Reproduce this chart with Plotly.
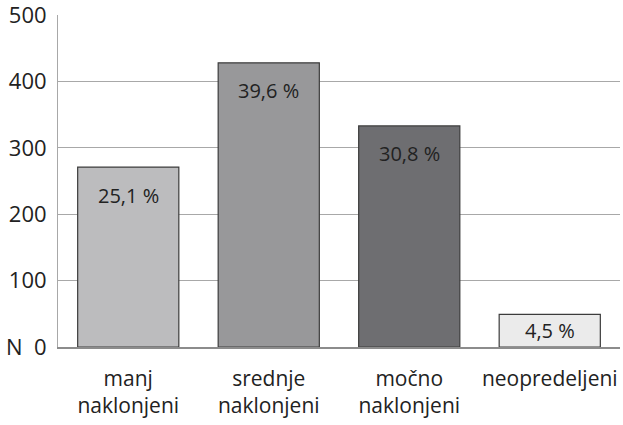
import plotly.graph_objects as go

# Respondent counts per attitude group, with the share of the total sample
categories = ["manj<br>naklonjeni", "srednje<br>naklonjeni", "močno<br>naklonjeni", "neopredeljeni"]
counts = [271, 428, 333, 49]
shares = ["25,1 %", "39,6 %", "30,8 %", "4,5 %"]
bar_colors = ["#bcbcbe", "#98989a", "#6e6e71", "#ebebeb"]

tick_vals = [0, 100, 200, 300, 400, 500]
tick_text = ["N  0", "100", "200", "300", "400", "500"]

FONT = "Open Sans, sans-serif"
TEXT_COLOR = "#222222"

fig = go.Figure(
    go.Bar(
        x=categories,
        y=counts,
        marker=dict(color=bar_colors, line=dict(color="#3c3c3c", width=1.2)),
        width=0.72,
        hoverinfo="skip",
    )
)

# Percentage labels placed just below each bar top (centred in the small bar)
for cat, n, s in zip(categories, counts, shares):
    if n > 100:
        fig.add_annotation(x=cat, y=n, text=s, showarrow=False, yanchor="middle",
                           yshift=-28, font=dict(family=FONT, size=20, color=TEXT_COLOR))
    else:
        fig.add_annotation(x=cat, y=n / 2, text=s, showarrow=False, yanchor="middle",
                           font=dict(family=FONT, size=20, color=TEXT_COLOR))

fig.update_layout(
    width=623,
    height=425,
    margin=dict(l=58, r=3, t=15, b=78, autoexpand=False),
    paper_bgcolor="white",
    plot_bgcolor="white",
    showlegend=False,
    font=dict(family=FONT, size=21, color=TEXT_COLOR),
    xaxis=dict(
        showgrid=False,
        showline=True,
        linecolor="#8c8c8c",
        linewidth=1.5,
        ticks="",
        automargin=False,
        ticklabelstandoff=12,
        tickfont=dict(family=FONT, size=21, color=TEXT_COLOR),
    ),
    yaxis=dict(
        range=[0, 500],
        tickvals=tick_vals,
        ticktext=tick_text,
        showgrid=True,
        gridcolor="#a8a8a8",
        gridwidth=1,
        showline=True,
        linecolor="#a8a8a8",
        linewidth=1,
        zeroline=False,
        ticks="",
        automargin=False,
        ticklabelstandoff=6,
        ticklabeloverflow="allow",
        tickfont=dict(family=FONT, size=22, color=TEXT_COLOR),
    ),
)

fig.write_html("out.html")
